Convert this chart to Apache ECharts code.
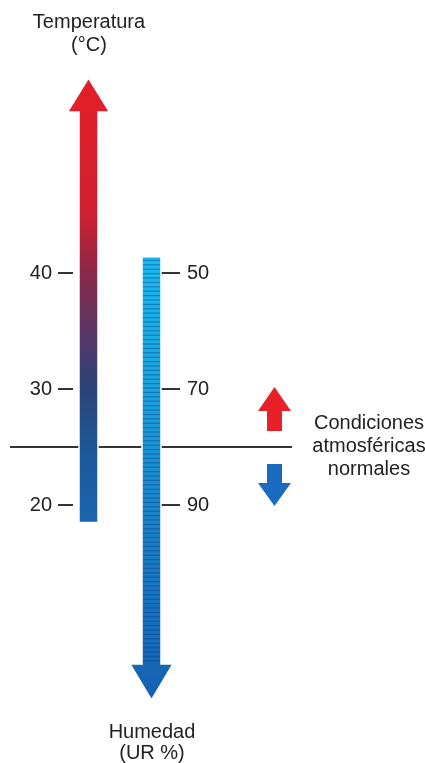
<!DOCTYPE html>
<html>
<head>
<meta charset="utf-8">
<script src="https://cdn.jsdelivr.net/npm/echarts@6/dist/echarts.min.js"></script>
<style>html,body{margin:0;padding:0;background:#fff}#c{width:425px;height:763px}</style>
</head>
<body>
<div id="c"></div>
<script>
// ---- data ----
const tempTicks = [20, 30, 40];          // °C
const humTicks = [50, 70, 90];           // UR %
const tempArrow = [18.5, 56.8];          // temperature arrow: base, tip (°C)
const humArrow = [47.2, 123.6];          // humidity arrow: top, tip (UR %)
const normalTemp = [25];                 // normal conditions level (°C)
const texts = {
  temp: 'Temperatura\n(°C)',
  hum: 'Humedad\n(UR %)',
  normal: 'Condiciones\natmosféricas\nnormales'
};

// ---- style constants ----
const FONT = '"Liberation Sans", Arial, Helvetica, sans-serif';
const TEMP_X = 88.5, HUM_X = 151.5;

const chart = echarts.init(document.getElementById('c'));

function tempRender(params, api) {
  const pb = api.coord([TEMP_X, api.value(0)]);
  const pt = api.coord([TEMP_X, api.value(1)]);
  const x = pb[0], hw = 9.5, headLen = 34, headHW = 21;
  const pts = [
    [x - hw, pb[1]], [x - hw, pt[1] + headLen], [x - headHW, pt[1] + headLen],
    [x, pt[1]], [x + headHW, pt[1] + headLen], [x + hw, pt[1] + headLen], [x + hw, pb[1]]
  ];
  return {
    type: 'polygon',
    shape: { points: pts },
    style: {
      fill: new echarts.graphic.LinearGradient(0, 0, 0, 1, [
        { offset: 0, color: '#e41f28' },
        { offset: 0.30, color: '#cf2030' },
        { offset: 0.44, color: '#8a2848' },
        { offset: 0.57, color: '#5a3568' },
        { offset: 0.70, color: '#2a4479' },
        { offset: 0.84, color: '#1d5899' },
        { offset: 1, color: '#1a64b0' }
      ]),
      stroke: '#fff', lineWidth: 1.5
    }
  };
}

function humRender(params, api) {
  const ptop = api.coord([HUM_X, api.value(0)]);
  const ptip = api.coord([HUM_X, api.value(1)]);
  const x = ptop[0], hw = 9.5, headLen = 36, headHW = 21.5;
  const baseY = ptip[1] - headLen;
  const pts = [
    [x - hw, ptop[1]], [x + hw, ptop[1]], [x + hw, baseY], [x + headHW, baseY],
    [x, ptip[1]], [x - headHW, baseY], [x - hw, baseY]
  ];
  const children = [{
    type: 'polygon',
    shape: { points: pts },
    style: {
      fill: new echarts.graphic.LinearGradient(0, 0, 0, 1, [
        { offset: 0, color: '#1bb9ef' },
        { offset: 0.3, color: '#1aa4de' },
        { offset: 0.56, color: '#1a86cc' },
        { offset: 0.85, color: '#166dbb' },
        { offset: 1, color: '#1560b0' }
      ]),
      stroke: '#fff', lineWidth: 1.5
    }
  }];
  for (let y = ptop[1] + 3; y < baseY; y += 4.4) {
    children.push({
      type: 'rect',
      shape: { x: x - hw + 1, y: y, width: 2 * hw - 2, height: 1.3 },
      style: { fill: 'rgba(10,60,130,0.42)' }
    });
  }
  return { type: 'group', children: children };
}

function normalRender(params, api) {
  const a = api.coord([10, api.value(0)]);
  const b = api.coord([292, api.value(0)]);
  const y = a[1];
  const ax = 274.5, shw = 7.5, hhw = 16.5;
  return {
    type: 'group',
    children: [
      { type: 'line', shape: { x1: a[0], y1: y, x2: b[0], y2: y }, style: { stroke: '#333', lineWidth: 2 } },
      { type: 'polygon', shape: { points: [
          [ax - shw, y - 16], [ax - shw, y - 36], [ax - hhw, y - 36], [ax, y - 60],
          [ax + hhw, y - 36], [ax + shw, y - 36], [ax + shw, y - 16]] },
        style: { fill: '#e8202a' } },
      { type: 'polygon', shape: { points: [
          [ax - shw, y + 17], [ax - shw, y + 36], [ax - hhw, y + 36], [ax, y + 59],
          [ax + hhw, y + 36], [ax + shw, y + 36], [ax + shw, y + 17]] },
        style: { fill: '#1a6abf' } },
      { type: 'text', x: 369, y: y - 1,
        style: { text: texts.normal, align: 'center', verticalAlign: 'middle',
                 font: '20px ' + FONT, lineHeight: 23, fill: '#222' } }
    ]
  };
}

chart.setOption({
  animation: false,
  grid: { left: 73, right: 265, top: 41, bottom: 26 },
  xAxis: { type: 'value', min: 73, max: 160, show: false },
  yAxis: [
    {
      type: 'value', min: 0, max: 60, position: 'left',
      axisLine: { show: false }, splitLine: { show: false },
      axisTick: { show: true, length: 15, customValues: tempTicks, lineStyle: { color: '#333', width: 2 } },
      axisLabel: { customValues: tempTicks, margin: 21, fontSize: 20, fontFamily: FONT, color: '#222' }
    },
    {
      type: 'value', min: 10, max: 130, inverse: true, position: 'right',
      axisLine: { show: false }, splitLine: { show: false },
      axisTick: { show: true, length: 20, customValues: humTicks, lineStyle: { color: '#333', width: 2 } },
      axisLabel: { customValues: humTicks, margin: 27, fontSize: 20, fontFamily: FONT, color: '#222' }
    }
  ],
  graphic: [
    { type: 'text', x: 89, y: 34,
      style: { text: texts.temp, align: 'center', verticalAlign: 'middle', font: '20px ' + FONT, lineHeight: 23, fill: '#222' } },
    { type: 'text', x: 152, y: 743,
      style: { text: texts.hum, align: 'center', verticalAlign: 'middle', font: '20px ' + FONT, lineHeight: 21, fill: '#222' } }
  ],
  series: [
    { type: 'custom', name: 'Condiciones normales', yAxisIndex: 0, renderItem: normalRender,
      data: normalTemp.map(v => [v]), encode: { y: [0] }, z: 1, clip: false },
    { type: 'custom', name: 'Temperatura', yAxisIndex: 0, renderItem: tempRender,
      data: [[tempArrow[0], tempArrow[1]]], encode: { y: [0, 1] }, z: 2, clip: false },
    { type: 'custom', name: 'Humedad', yAxisIndex: 1, renderItem: humRender,
      data: [[humArrow[0], humArrow[1]]], encode: { y: [0, 1] }, z: 2, clip: false }
  ]
});
</script>
</body>
</html>
